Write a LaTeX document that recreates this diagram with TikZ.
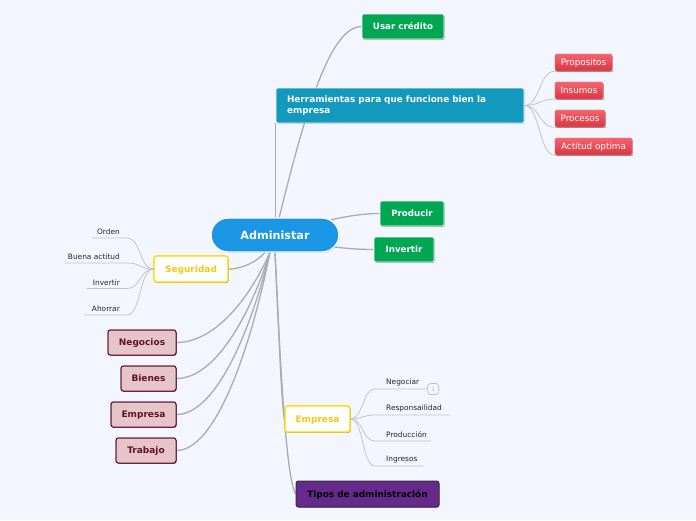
\documentclass[tikz,border=0pt]{standalone}
\usepackage{fontspec}
\setmainfont{DejaVu Sans}
\usetikzlibrary{shadows,calc}
\definecolor{bgc}{RGB}{243,246,254}
\definecolor{lineg}{RGB}{172,172,172}
\definecolor{leafg}{RGB}{196,196,200}
\definecolor{admblue}{RGB}{27,150,229}
\definecolor{grn}{RGB}{0,166,81}
\definecolor{teal}{RGB}{18,153,189}
\definecolor{redtop}{RGB}{242,100,110}
\definecolor{redbot}{RGB}{222,52,64}
\definecolor{pinkf}{RGB}{230,197,202}
\definecolor{maroon}{RGB}{98,18,40}
\definecolor{yel}{RGB}{255,218,0}
\definecolor{yeltxt}{RGB}{246,200,20}
\definecolor{purp}{RGB}{102,42,140}
\definecolor{badgeg}{RGB}{190,190,195}
\tikzset{
  conn/.style={draw=lineg, line width=1.3pt},
  lconn/.style={draw=leafg, line width=0.8pt},
  shad/.style={drop shadow={shadow xshift=0.7pt, shadow yshift=-0.9pt, opacity=0.22, fill=black}},
  gbox/.style={rectangle, rounded corners=2pt, fill=grn, draw=white, line width=0.6pt, text=white,
     font=\bfseries\fontsize{8.7}{10}\selectfont, inner sep=0pt, text height=6.3pt, text depth=0pt, shad},
  rbox/.style={rectangle, rounded corners=2pt, top color=redtop, bottom color=redbot, draw=redtop!80!white, line width=0.4pt,
     text=white, font=\fontsize{8.8}{10}\selectfont, inner sep=0pt, text height=6.4pt, text depth=0pt, minimum height=17pt, shad},
  pbox/.style={rectangle, rounded corners=2.5pt, fill=pinkf, draw=maroon, line width=1pt, text=maroon,
     font=\bfseries\fontsize{9}{11}\selectfont, inner sep=0pt, text height=6.6pt, text depth=0pt, minimum height=25pt, shad},
  ybox/.style={rectangle, rounded corners=2.5pt, fill=white, draw=yel, line width=1.1pt, text=yeltxt,
     font=\bfseries\fontsize{9}{11}\selectfont, inner sep=0pt, text height=6.6pt, text depth=0pt, minimum height=26pt, shad},
  lleaf/.style={anchor=south east, align=right, inner xsep=0pt, inner ysep=3pt,
     font=\fontsize{7.4}{9}\selectfont, text=black!85},
  rleaf/.style={anchor=south west, align=left, inner xsep=0pt, inner ysep=3pt,
     font=\fontsize{7.4}{9}\selectfont, text=black!85},
}
\begin{document}
\begin{tikzpicture}[x=1pt,y=-1pt]
\fill[bgc] (0,0) rectangle (696,520);
\useasboundingbox (0,0) rectangle (696,520);

% ---- node placeholders ----
\path
 node[rectangle, minimum width=128pt, minimum height=34pt, inner sep=0pt] (adm) at (275,235) {}
 node[gbox, minimum width=82pt, minimum height=25pt] (usar) at (403,26.5) {}
 node[rectangle, minimum width=248pt, minimum height=35pt, inner sep=0pt] (herr) at (400,105.5) {}
 node[rbox, minimum width=57pt] (prop) at (583.5,62.5) {}
 node[rbox, minimum width=48pt] (ins) at (579,90.5) {}
 node[rbox, minimum width=50pt] (proc) at (580,118.5) {}
 node[rbox, minimum width=77pt] (act) at (593.5,146.5) {}
 node[gbox, minimum width=64pt, minimum height=25pt] (prod) at (412,213.5) {}
 node[gbox, minimum width=60pt, minimum height=25pt] (inv) at (404,249.5) {}
 node[ybox, minimum width=74pt] (seg) at (191,269) {}
 node[pbox, minimum width=68pt] (neg) at (142,342.5) {}
 node[pbox, minimum width=55pt] (bien) at (148.5,378.5) {}
 node[pbox, minimum width=65pt] (empa) at (143.5,414.5) {}
 node[pbox, minimum width=60pt] (trab) at (146,450.5) {}
 node[ybox, minimum width=65pt] (empb) at (317.5,419) {}
 node[rectangle, minimum width=143pt, minimum height=26pt, inner sep=0pt] (tipos) at (367.5,494) {};

% ---- main connectors ----
\draw[conn] (adm.center) .. controls (305,110) and (330,26.5) .. (usar.west);
\draw[conn] (herr.south west) -- (herr.south west |- adm.center);
\draw[conn] (adm.center) .. controls (320,222) and (350,213.5) .. (prod.west);
\draw[conn] (adm.center) .. controls (320,246) and (345,249.5) .. (inv.west);
\draw[conn] (adm.center) .. controls (268,258) and (245,269) .. (seg.east);
\draw[conn] ([xshift=-5pt]adm.south) .. controls (250,298) and (215,342.5) .. (neg.east);
\draw[conn] ([xshift=-5pt]adm.south) .. controls (250,316) and (215,378.5) .. (bien.east);
\draw[conn] ([xshift=-5pt]adm.south) .. controls (250,334) and (215,414.5) .. (empa.east);
\draw[conn] ([xshift=-5pt]adm.south) .. controls (250,352) and (215,450.5) .. (trab.east);
\draw[conn] (adm.south) .. controls (279,330) and (281,400) .. (empb.west);
\draw[conn] (adm.south) .. controls (280,360) and (286,480) .. (tipos.west);

% ---- leaf connectors (Herramientas) ----
\draw[lconn] (herr.east) .. controls +(16,0) and +(-16,0) .. (prop.south west) -- ([xshift=2pt]prop.south east);
\draw[lconn] (herr.east) .. controls +(16,0) and +(-16,0) .. (ins.south west) -- ([xshift=2pt]ins.south east);
\draw[lconn] (herr.east) .. controls +(16,0) and +(-16,0) .. (proc.south west) -- ([xshift=2pt]proc.south east);
\draw[lconn] (herr.east) .. controls +(16,0) and +(-16,0) .. (act.south west) -- ([xshift=2pt]act.south east);

% ---- visible boxes drawn over connectors ----
\node[rectangle, rounded corners=17pt, fill=admblue, draw=white, line width=1.4pt, text=white,
  minimum width=128pt, minimum height=34pt, inner sep=0pt, text height=8.2pt, text depth=0pt,
  font=\bfseries\fontsize{11.2}{13}\selectfont, shad]
  at (adm.center) {Administar};
\node[rectangle, rounded corners=2pt, fill=teal, draw=white, line width=0.6pt, text=white,
  minimum width=248pt, minimum height=35pt, inner xsep=11pt, inner ysep=0pt, text width=226pt, align=left,
  font=\bfseries\fontsize{8.9}{11}\selectfont, shad]
  at (herr.center) {Herramientas para que funcione bien la\\empresa};
\node[rectangle, rounded corners=2.5pt, fill=purp, draw=black!80, line width=1pt, text=black,
  minimum width=143pt, minimum height=26pt, inner sep=0pt, text height=6.5pt, text depth=0pt,
  font=\bfseries\fontsize{8.9}{10}\selectfont, shad]
  at (tipos.center) {Tipos de administración};
\node[gbox, minimum width=82pt, minimum height=25pt] at (usar.center) {Usar crédito};
\node[gbox, minimum width=64pt, minimum height=25pt] at (prod.center) {Producir};
\node[gbox, minimum width=60pt, minimum height=25pt] at (inv.center) {Invertir};
\node[rbox, minimum width=57pt] at (prop.center) {Propositos};
\node[rbox, minimum width=48pt] at (ins.center) {Insumos};
\node[rbox, minimum width=50pt] at (proc.center) {Procesos};
\node[rbox, minimum width=77pt] at (act.center) {Actitud optima};
\node[ybox, minimum width=74pt] at (seg.center) {Seguridad};
\node[pbox, minimum width=68pt] at (neg.center) {Negocios};
\node[pbox, minimum width=55pt] at (bien.center) {Bienes};
\node[pbox, minimum width=65pt] at (empa.center) {Empresa};
\node[pbox, minimum width=60pt] at (trab.center) {Trabajo};
\node[ybox, minimum width=65pt] at (empb.center) {Empresa};

% ---- Seguridad leaves ----
\node[lleaf, text width=35pt] (ord) at (127,238) {Orden\hspace*{7pt}};
\node[lleaf, text width=62pt] (bue) at (127,263) {Buena actitud\hspace*{7pt}};
\node[lleaf, text width=40pt] (invl) at (127,288.5) {Invertir\hspace*{7pt}};
\node[lleaf, text width=43pt] (aho) at (127,315) {Ahorrar\hspace*{7pt}};
\foreach \n in {ord,bue,invl,aho}{
  \draw[lconn] (seg.west) .. controls +(-14,0) and +(14,0) .. (\n.south east) -- (\n.south west);
}

% ---- Empresa leaves ----
\node[rleaf, text width=52pt] (nego) at (375,389) {\hspace*{11pt}Negociar};
\node[rleaf, text width=75pt] (resp) at (375,415) {\hspace*{11pt}Responsailidad};
\node[rleaf, text width=56pt] (prodl) at (375,441) {\hspace*{11pt}Producción};
\node[rleaf, text width=48pt] (ingr) at (375,466) {\hspace*{11pt}Ingresos};
\foreach \n in {nego,resp,prodl,ingr}{
  \draw[lconn] (empb.east) .. controls +(13,0) and +(-13,0) .. (\n.south west) -- (\n.south east);
}
\node[rectangle, rounded corners=3pt, draw=badgeg, fill=bgc, line width=0.7pt, text=badgeg,
  minimum width=11pt, minimum height=11pt, inner sep=0pt, font=\fontsize{6}{7}\selectfont,
  anchor=west] (badge) at (nego.south east) {1};
\end{tikzpicture}
\end{document}
